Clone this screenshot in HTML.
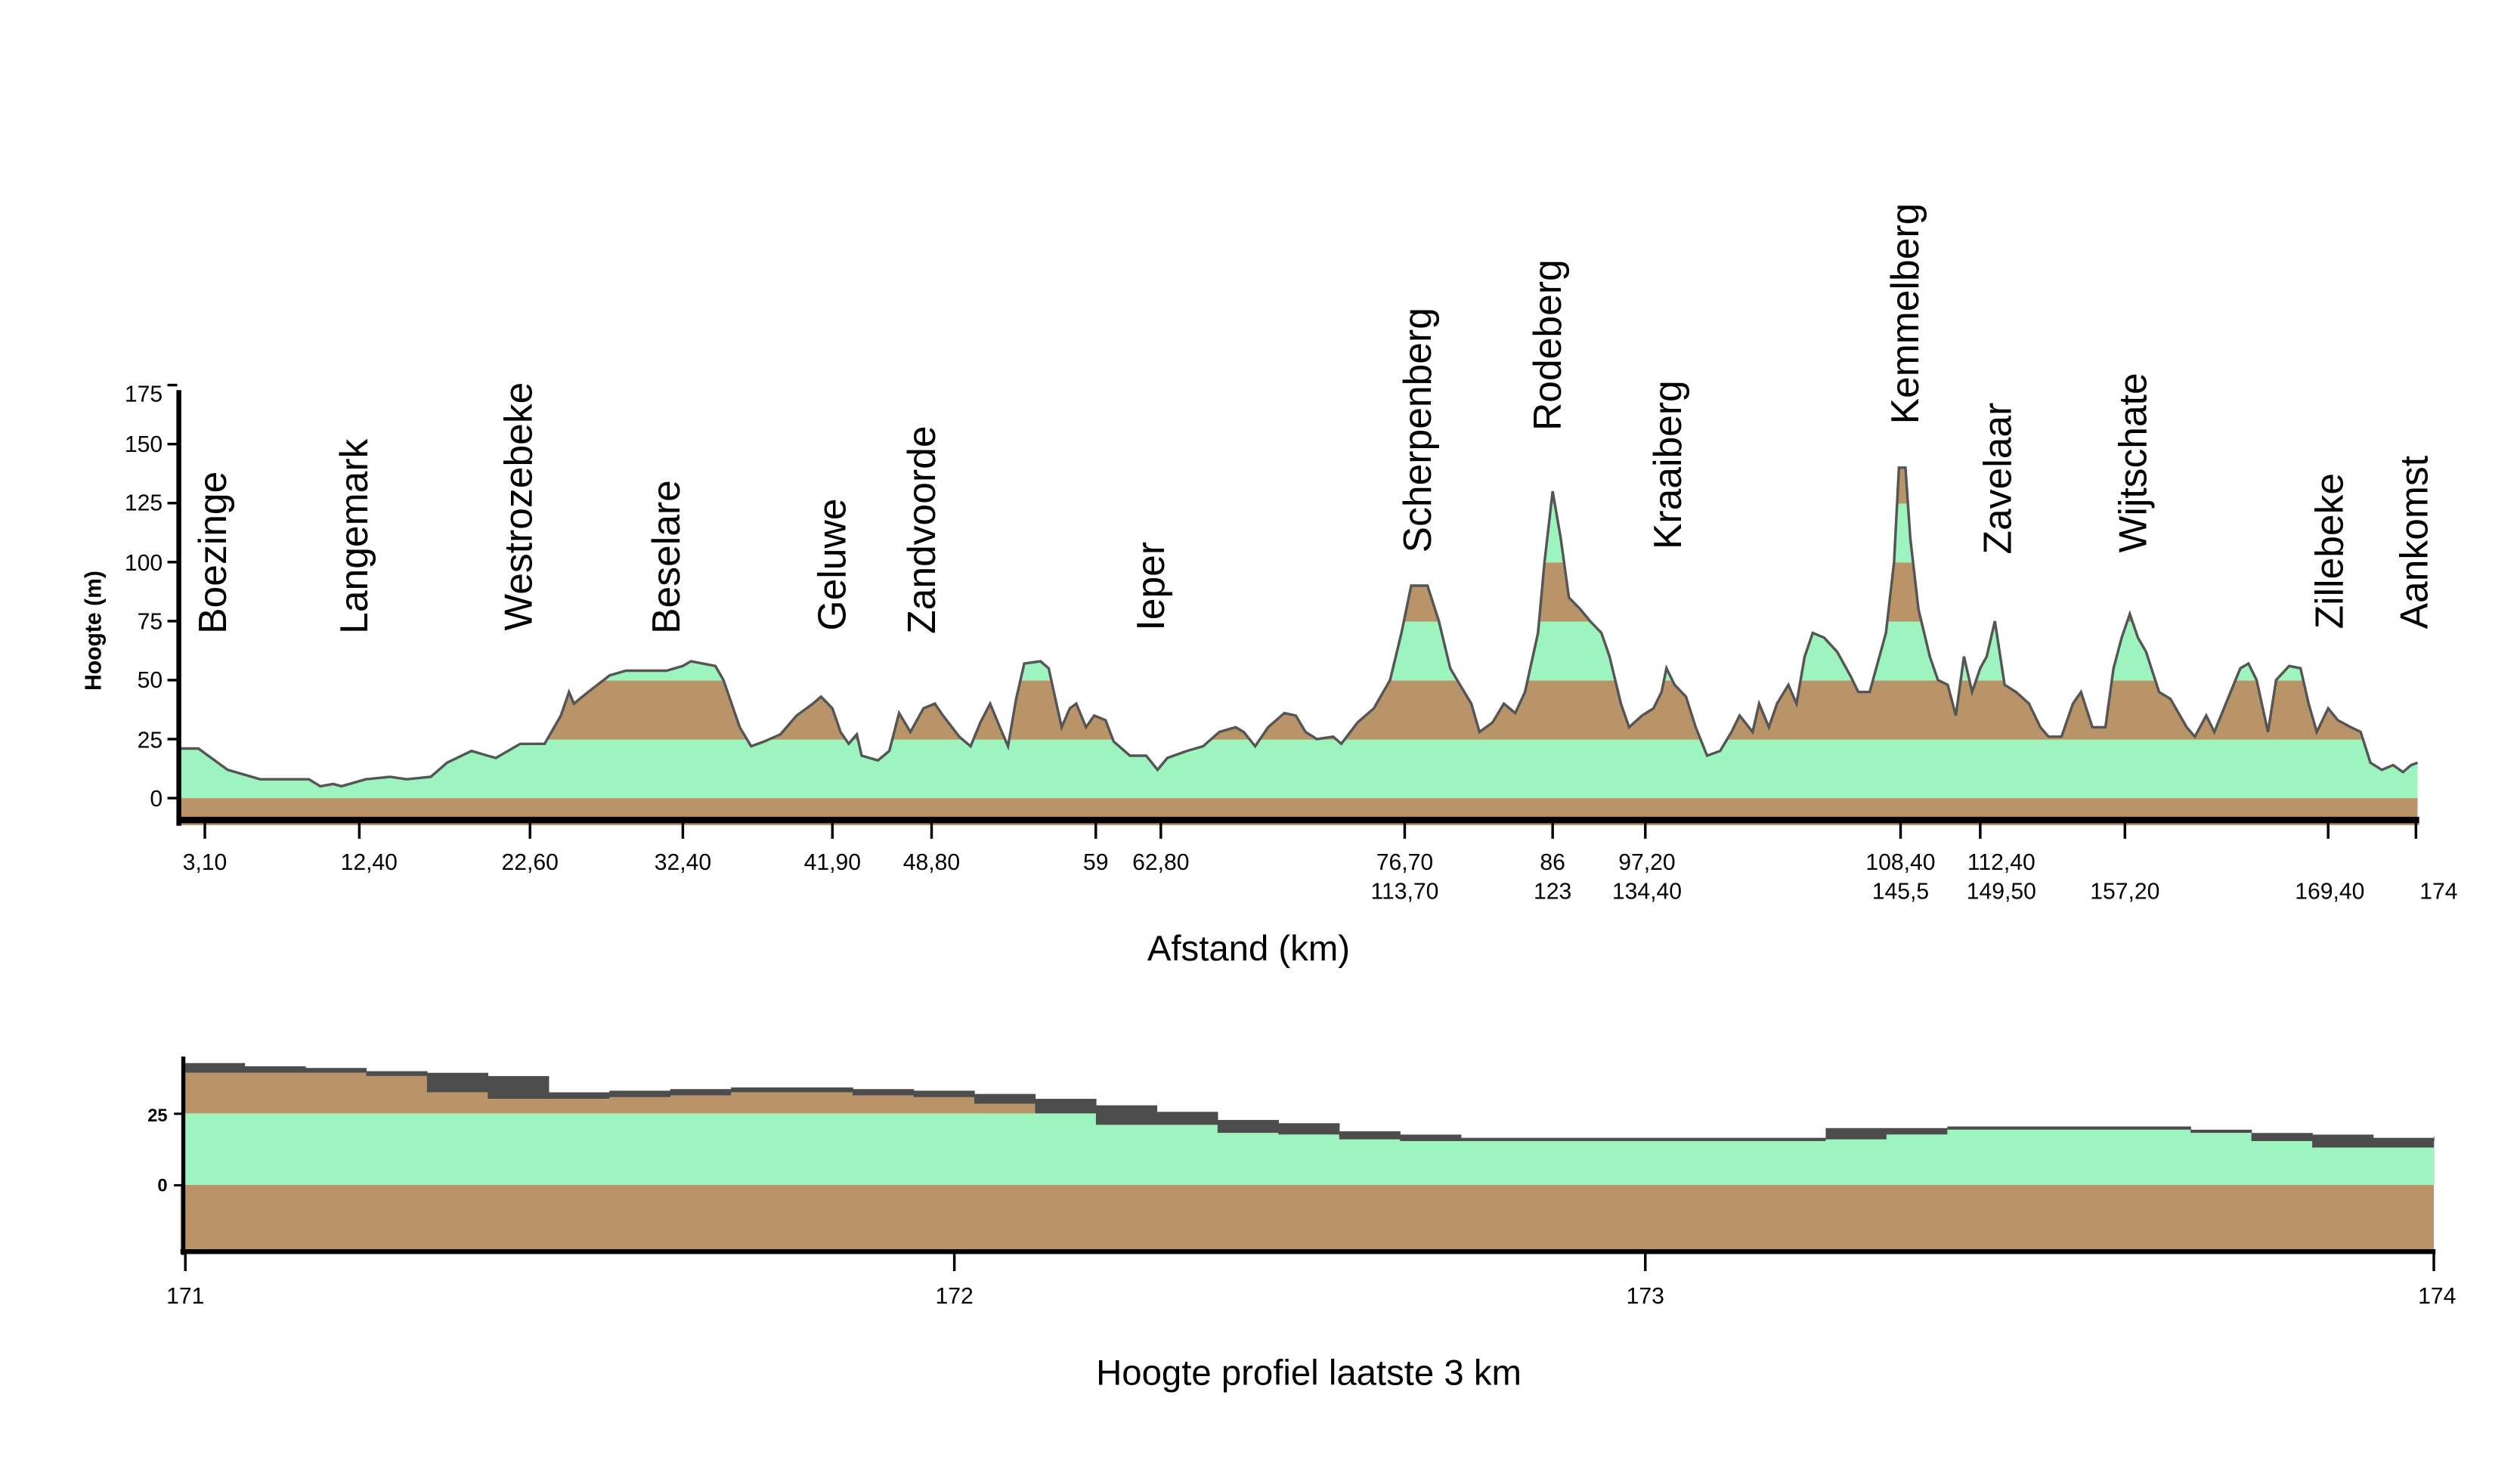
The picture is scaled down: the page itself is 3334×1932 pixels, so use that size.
<!DOCTYPE html>
<html><head><meta charset="utf-8"><style>
html,body{margin:0;padding:0;background:#fff;}
svg{display:block;}
text{font-family:"Liberation Sans",sans-serif;fill:#000;}
.n{font-family:"Liberation Sans Narrow","Liberation Sans",sans-serif;font-size:14px;}
.pl{font-size:24px;}
</style></head><body>
<svg id="s" width="3334" height="1932" viewBox="0 0 1550 898.2" preserveAspectRatio="none" xmlns="http://www.w3.org/2000/svg">
<defs><clipPath id="cp"><polygon id="cpoly" points=""/></clipPath></defs>
<g id="bands" clip-path="url(#cp)"></g>
<rect x="110" y="491" width="1377" height="12" fill="#b89468"/>
<polyline id="line" fill="none" stroke="#555" stroke-width="1.6" points=""/>
<rect x="110" y="502.5" width="1378" height="4" fill="#000"/>
<rect x="110" y="506.5" width="1378" height="1.2" fill="#b89468"/>
<rect x="108.5" y="240" width="3" height="268" fill="#000"/>
<g id="yt"></g>
<g id="xt"></g>
<text x="0" y="0" transform="translate(62,388) rotate(-90)" text-anchor="middle" style="font-size:14px;font-weight:bold">Hoogte (m)</text>
<g class="n" text-anchor="end">
<text x="100" y="247">175</text><text x="100" y="278">150</text><text x="100" y="314">125</text><text x="100" y="351">100</text>
<text x="100" y="387">75</text><text x="100" y="423">50</text><text x="100" y="460">25</text><text x="100" y="496">0</text>
</g>
<g class="pl">
<text transform="translate(139,390) rotate(-90)">Boezinge</text>
<text transform="translate(226,390) rotate(-90)">Langemark</text>
<text transform="translate(327,388) rotate(-90)">Westrozebeke</text>
<text transform="translate(418,390) rotate(-90)">Beselare</text>
<text transform="translate(520,388) rotate(-90)">Geluwe</text>
<text transform="translate(575,390) rotate(-90)">Zandvoorde</text>
<text transform="translate(716,388) rotate(-90)">Ieper</text>
<text transform="translate(880,340) rotate(-90)">Scherpenberg</text>
<text transform="translate(960,265) rotate(-90)">Rodeberg</text>
<text transform="translate(1034,338) rotate(-90)">Kraaiberg</text>
<text transform="translate(1180,261) rotate(-90)">Kemmelberg</text>
<text transform="translate(1237,341) rotate(-90)">Zavelaar</text>
<text transform="translate(1320,340) rotate(-90)">Wijtschate</text>
<text transform="translate(1441,387) rotate(-90)">Zillebeke</text>
<text transform="translate(1493,387) rotate(-90)">Aankomst</text>
</g>
<g class="n" text-anchor="middle">
<text x="126" y="535">3,10</text><text x="227" y="535">12,40</text><text x="326" y="535">22,60</text><text x="420" y="535">32,40</text>
<text x="512" y="535">41,90</text><text x="573" y="535">48,80</text><text x="674" y="535">59</text><text x="714" y="535">62,80</text>
<text x="864" y="535">76,70</text><text x="864" y="553">113,70</text>
<text x="955" y="535">86</text><text x="955" y="553">123</text>
<text x="1013" y="535">97,20</text><text x="1013" y="553">134,40</text>
<text x="1169" y="535">108,40</text><text x="1169" y="553">145,5</text>
<text x="1231" y="535">112,40</text><text x="1231" y="553">149,50</text>
<text x="1307" y="553">157,20</text><text x="1433" y="553">169,40</text><text x="1500" y="553">174</text>
</g>
<text x="768" y="591" text-anchor="middle" style="font-size:22px">Afstand (km)</text>

<g id="low"></g>
<rect x="111" y="729" width="1386" height="40" fill="#b89468"/>
<rect x="111" y="768.5" width="1387" height="3" fill="#000"/>
<rect x="111.5" y="650" width="2.5" height="122" fill="#000"/>
<g id="lt"></g>
<text x="103" y="690" text-anchor="end" style="font-size:11px;font-weight:bold">25</text>
<text x="103" y="733" text-anchor="end" style="font-size:11px;font-weight:bold">0</text>
<g class="n" text-anchor="middle">
<text x="114" y="802">171</text><text x="587" y="802">172</text><text x="1012" y="802">173</text><text x="1499" y="802">174</text>
</g>
<text x="805" y="852" text-anchor="middle" style="font-size:22px">Hoogte profiel laatste 3 km</text>
</svg>
<script>
var NS="http://www.w3.org/2000/svg";
function el(p,t,a){var e=document.createElementNS(NS,t);for(var k in a)e.setAttribute(k,a[k]);p.appendChild(e);return e;}
var d=[110,21,122,21,140,12,160,8,190,8,197,5,205,6,210,5,225,8,240,9,250,8,265,9,275,15,290,20,300,18,305,17,320,23,335,23,345,35,350,45,353,40,360,44,375,52,385,54,410,54,420,56,425,58,440,56,445,50,455,30,462,22,470,24,480,27,490,35,500,40,505,43,512,38,517,28,522,23,527,27,530,18,540,16,547,20,553,36,560,28,568,38,575,40,580,35,590,26,597,22,603,32,609,40,615,30,620,22,625,42,630,57,640,58,645,55,653,30,658,38,662,40,668,30,673,35,680,33,685,24,695,18,705,18,712,12,718,17,730,20,740,22,750,28,760,30,765,28,772,22,780,30,790,36,797,35,803,28,810,25,820,26,825,23,835,32,845,38,855,50,862,70,868,90,878,90,885,75,892,55,898,48,905,40,910,28,918,32,925,40,932,36,938,45,946,70,950,100,955,130,960,110,965,85,972,80,978,75,985,70,990,60,997,40,1002,30,1010,35,1017,38,1022,45,1025,55,1030,48,1037,43,1043,30,1050,18,1058,20,1065,28,1070,35,1078,28,1082,40,1088,30,1093,40,1100,48,1105,40,1110,60,1115,70,1122,68,1130,62,1138,52,1143,45,1150,45,1160,70,1165,100,1168,140,1172,140,1175,110,1180,80,1187,60,1192,50,1198,48,1203,35,1208,60,1213,45,1218,55,1222,60,1227,75,1233,48,1240,45,1248,40,1255,30,1260,26,1268,26,1275,40,1280,45,1287,30,1295,30,1300,55,1305,68,1310,78,1315,68,1320,62,1328,45,1335,42,1345,30,1350,26,1357,35,1362,28,1372,45,1378,55,1383,57,1388,50,1395,28,1400,50,1408,56,1415,55,1420,40,1425,28,1432,38,1438,33,1446,30,1452,28,1458,15,1465,12,1472,14,1478,11,1483,14,1487,15];
function Y(e){return 491-1.452*e;}
var pts=[];for(var i=0;i<d.length;i+=2)pts.push(d[i]+","+Y(d[i+1]).toFixed(1));
document.getElementById("line").setAttribute("points",pts.join(" "));
document.getElementById("cpoly").setAttribute("points","110,491 "+pts.join(" ")+" 1487,491");
var b=document.getElementById("bands");
for(var k=0;k<7;k++){el(b,"rect",{x:110,y:Y((k+1)*25),width:1377,height:Y(k*25)-Y((k+1)*25)+0.3,fill:k%2?"#b89468":"#9ef4be"});}
var yt=document.getElementById("yt");
for(var k=0;k<=7;k++)el(yt,"rect",{x:103,y:Y(k*25)-0.8,width:6,height:1.6,fill:"#000"});
var xt=document.getElementById("xt");
[126,221,326,420,512,573,674,714,864,955,1012,1169,1218,1307,1432,1486].forEach(function(x){el(xt,"rect",{x:x-0.8,y:503,width:1.6,height:13,fill:"#000"});});
var lo=[[654,660],[656,660],[657,660],[659,662],[660,672],[662,676],[672,676],[671,675],[670,674],[669,672],[669,672],[670,674],[671,675],[673,679],[676,685],[680,692],[684,692],[689,697],[691,698],[696,701],[698,702],[700,702],[700,702],[700,702],[700,702],[700,702],[700,702],[694,701],[694,698],[693,695],[693,695],[693,695],[693,695],[695,697],[697,702],[698,706],[700,706],[699,702]];
var L=document.getElementById("low");var w=1384/37;
for(var i=0;i<lo.length;i++){var x0=113+i*w,x1=(i==lo.length-1)?1497:113+(i+1)*w;var u=lo[i][0],l=lo[i][1];
el(L,"rect",{x:x0,y:u,width:x1-x0+0.3,height:l-u,fill:"#4d4d4d"});
if(l<685)el(L,"rect",{x:x0,y:l,width:x1-x0+0.3,height:685-l,fill:"#b89468"});
var g=Math.max(l,685);el(L,"rect",{x:x0,y:g,width:x1-x0+0.3,height:729-g,fill:"#9ef4be"});}
var lt=document.getElementById("lt");
[114,587,1012,1497].forEach(function(x){el(lt,"rect",{x:x-0.8,y:770,width:1.6,height:12,fill:"#000"});});
el(lt,"rect",{x:107,y:684.5,width:5,height:1.4,fill:"#000"});el(lt,"rect",{x:107,y:728.5,width:5,height:1.4,fill:"#000"});
</script>
</body></html>
